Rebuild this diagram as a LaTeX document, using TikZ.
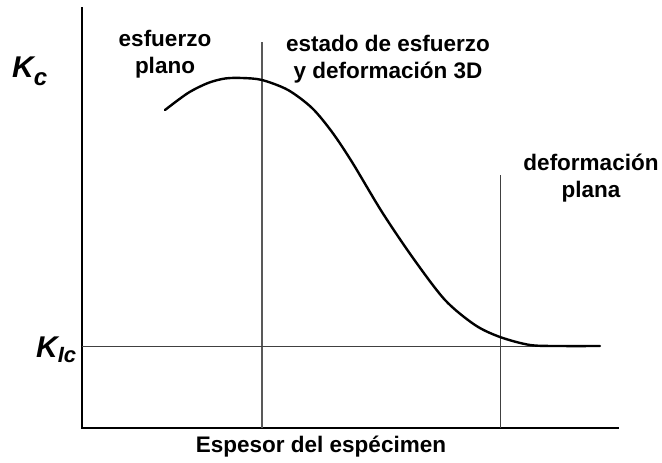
\documentclass[tikz,border=0pt]{standalone}
\usepackage{fontspec}
\setmainfont{Liberation Sans}
\begin{document}
\begin{tikzpicture}[x=1pt,y=-1pt,
  axis/.style={line width=2pt,black},
  grid/.style={line width=1.2pt,black!65},
  refline/.style={line width=1pt,black!75},
  curve/.style={line width=2.4pt,black,line cap=round},
  lbl/.style={font=\fontsize{22.5}{27}\selectfont\bfseries,align=center,inner sep=0pt},
  klbl/.style={font=\fontsize{30}{30}\selectfont\bfseries\itshape,inner sep=0pt,anchor=base west}]
\useasboundingbox (0,0) rectangle (662,463);
% axes
\coordinate (ytop) at (82,7);
\coordinate (orig) at (82,428);
\coordinate (xend) at (619,428);
\draw[axis] (ytop) -- (orig) -- (xend);
% vertical region lines
\coordinate (v1t) at (262,42);
\coordinate (v1b) at (262,428);
\coordinate (v2t) at (500,175);
\coordinate (v2b) at (500,428);
\draw[grid] (v1t) -- (v1b);
\draw[refline] (v2t) -- (v2b);
% KIc line
\coordinate (kl) at (82,346);
\coordinate (kr) at (600,346);
\draw[refline] (kl) -- (kr);
% curve
\draw[curve] plot[smooth,tension=0.5] coordinates {(165,110) (188,93) (208,83) (225,78.5) (242,78) (262,80) (288,90) (312,108) (332,132) (352,162) (382,212) (413,258) (445,300) (475,325) (500,337) (530,345) (560,346) (600,346)};
% labels
\node[lbl] (ep) at (165,54) {esfuerzo\\plano};
\node[lbl] (e3d) at (388,59) {estado de esfuerzo\\y deformación 3D};
\node[lbl] (dp) at (591,178) {deformación\\plana};
\node[lbl] (xl) at (321,447) {Espesor del espécimen};
\node[klbl] (kc) at (12,77) {K\raisebox{-9pt}{\fontsize{24}{24}\selectfont c}};
\node[klbl] (kic) at (36,357) {K\raisebox{-5pt}{\fontsize{22}{22}\selectfont Ic}};
\end{tikzpicture}
\end{document}
